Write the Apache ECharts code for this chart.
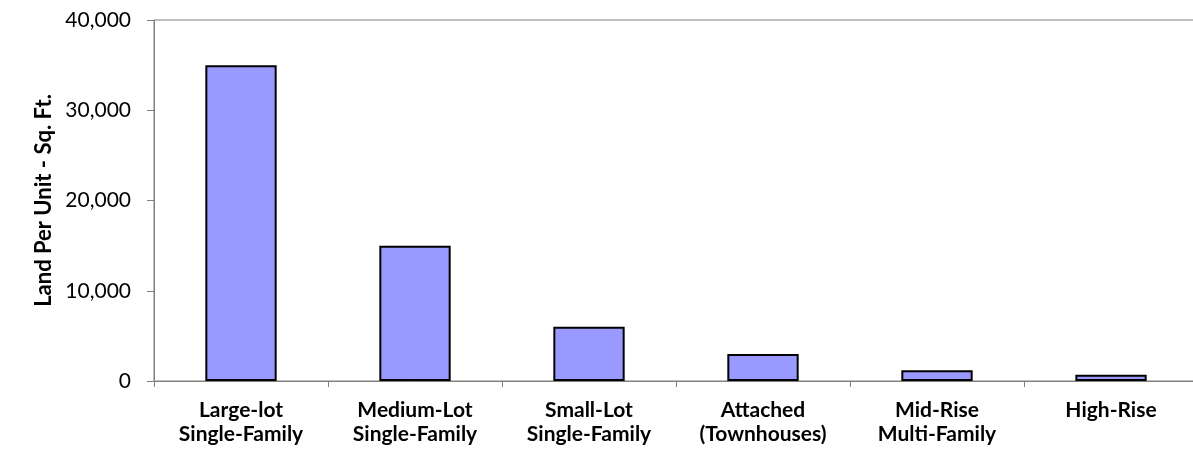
<!DOCTYPE html>
<html><head><meta charset="utf-8">
<script src="https://cdn.jsdelivr.net/npm/echarts@6/dist/echarts.min.js"></script>
<style>html,body{margin:0;padding:0;background:#fff;overflow:hidden}#c{width:1193px;height:453px}</style>
</head><body><div id="c"></div>
<script>
const categories = ['Large-lot\nSingle-Family','Medium-Lot\nSingle-Family','Small-Lot\nSingle-Family','Attached\n(Townhouses)','Mid-Rise\nMulti-Family','High-Rise'];
const landPerUnit = [35000, 15000, 6000, 3000, 1200, 700];
const yTicks = [0, 10000, 20000, 30000, 40000];
const yAxisTitle = 'Land Per Unit - Sq. Ft.';

const chart = echarts.init(document.getElementById('c'), null, {renderer:'canvas'});
const font = 'Lato, "Open Sans", sans-serif';
chart.setOption({
  animation: false,
  grid: {left: 154, width: 1044, top: 20, height: 361, show: true, borderColor: '#808080', borderWidth: 1,
         containLabel: false, outerBoundsMode: 'none'},
  xAxis: {
    type: 'category', data: categories,
    axisLine: {lineStyle: {color: '#808080', width: 1}},
    axisTick: {show: true, length: 6, lineStyle: {color: '#808080'}},
    axisLabel: {color: '#000', fontFamily: font, fontWeight: 'bold', fontSize: 21, lineHeight: 24, margin: 17, interval: 0}
  },
  yAxis: {
    type: 'value', min: yTicks[0], max: yTicks[yTicks.length-1], interval: 10000,
    name: yAxisTitle, nameLocation: 'middle', nameGap: 94,
    nameTextStyle: {color: '#000', fontFamily: font, fontWeight: 'bold', fontSize: 22},
    axisLine: {show: true, lineStyle: {color: '#808080', width: 1}},
    axisTick: {show: true, length: 7, lineStyle: {color: '#808080'}},
    splitLine: {show: false},
    axisLabel: {color: '#000', fontFamily: font, fontSize: 21, margin: 23,
      formatter: v => v.toLocaleString('en-US')}
  },
  series: [{
    type: 'bar', data: landPerUnit, barWidth: '41%',
    itemStyle: {color: '#9999FF', borderColor: '#000', borderWidth: 2}
  }]
});
</script></body></html>
